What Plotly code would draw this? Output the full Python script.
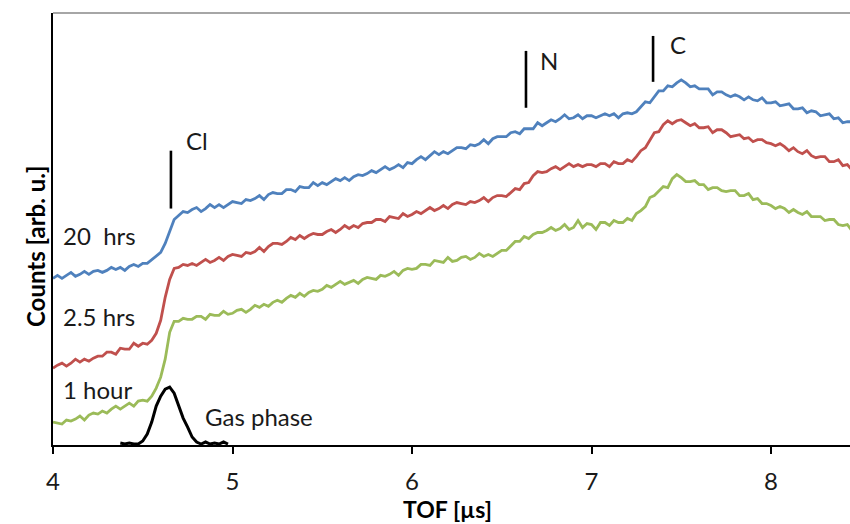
import numpy as np
import plotly.graph_objects as go

# sampling grid of the spectra (TOF, microseconds)
tof_step = 0.025
tof_start = 4.0

counts_20hrs = [
    166,169,166,169,172,168,170,173,170,173,
    174,172,174,177,175,177,174,178,180,178,
    181,181,185,188,192,201,214,225,229,233,
    232,235,237,233,236,240,237,240,237,240,
    243,242,241,245,244,246,249,245,250,252,
    251,251,255,255,253,258,257,257,262,259,
    262,260,263,266,264,267,264,268,270,269,
    271,274,272,275,278,275,277,280,277,282,
    281,285,288,285,289,293,290,293,291,294,
    297,297,296,300,299,301,305,301,306,308,
    308,308,312,313,311,316,316,316,322,319,
    322,325,323,326,330,326,327,330,326,329,
    329,327,329,331,329,331,327,331,332,331,
    333,338,343,342,348,354,354,359,358,362,
    365,362,358,359,356,356,356,350,353,353,
    350,348,350,348,345,348,345,344,347,342,
    342,343,339,340,341,336,336,337,332,334,
    333,329,330,331,326,327,322,323,323,
]
counts_2_5hrs = [
    76,79,81,78,81,85,82,85,83,86,
    88,88,92,92,90,96,95,95,101,98,
    101,100,104,111,124,147,165,176,177,180,
    179,181,179,182,185,182,184,187,184,188,
    190,189,188,192,191,193,197,193,198,201,
    201,200,203,207,205,209,206,209,211,210,
    210,213,215,212,215,219,216,219,217,221,
    222,222,225,225,223,228,227,226,231,228,
    230,233,231,234,237,234,236,239,236,240,
    242,241,240,243,242,244,247,243,247,249,
    249,248,252,256,255,261,262,269,273,272,
    273,276,278,275,278,281,278,280,278,280,
    280,278,281,281,278,283,281,281,285,283,
    288,294,297,304,312,313,320,324,321,324,
    325,322,319,321,317,317,318,312,315,315,
    312,308,309,310,306,307,303,305,305,302,
    301,299,301,298,294,297,293,291,294,289,
    287,288,288,283,283,285,279,280,275,
]
counts_1hour = [
    22,21,20,24,23,25,28,24,29,31,
    30,33,31,35,38,35,38,41,38,43,
    44,43,48,56,67,85,112,123,123,126,
    125,125,128,128,125,130,129,129,133,130,
    131,134,135,132,135,139,137,140,138,142,
    144,142,146,149,147,151,148,152,154,153,
    155,159,157,160,163,160,162,164,161,165,
    167,166,165,169,168,170,173,169,174,176,
    175,176,180,180,179,184,183,182,187,183,
    184,187,188,185,187,191,188,190,188,191,
    194,194,199,203,203,208,206,210,212,212,
    214,217,214,216,220,215,217,224,217,221,
    220,215,222,222,219,224,222,222,226,224,
    231,234,238,247,249,253,258,257,266,270,
    267,263,263,264,260,260,255,257,257,254,
    253,254,254,249,249,251,245,246,241,241,
    239,236,238,236,232,235,232,230,233,228,
    228,228,224,225,225,220,219,220,214,
]

gas_tof = [4.375,4.400,4.425,4.450,4.475,4.500,4.525,4.550,4.575,4.600,4.625,4.650,
           4.675,4.700,4.725,4.750,4.775,4.800,4.825,4.850,4.875,4.900,4.925,4.950,4.975]
gas_counts = [1,0,1,0,0,3,10,22,38,48,55,57,51,38,26,17,7,2,0,2,0,1,0,2,0]

series_names = ["20  hrs", "2.5 hrs", "1 hour"]
series_colors = ["#4F81BD", "#C0504D", "#9BBB59"]

# element markers
elem_labels = ["Cl", "N", "C"]
elem_tof = [4.657, 6.635, 7.343]
elem_lo = [236, 337, 363]
elem_hi = [294, 394, 409]

x_ticks = [4, 5, 6, 7, 8]

FONT = "Lato, 'Open Sans', sans-serif"

fig = go.Figure()
for name, ys, col in zip(series_names, [counts_20hrs, counts_2_5hrs, counts_1hour], series_colors):
    xs = tof_start + tof_step * np.arange(len(ys))
    fig.add_trace(go.Scatter(x=xs, y=ys, mode="lines", name=name,
                             line=dict(color=col, width=2.8), showlegend=False))

fig.add_trace(go.Scatter(x=gas_tof, y=gas_counts, mode="lines", name="Gas phase",
                         line=dict(color="black", width=3), showlegend=False))

for lab, ex, lo, hi in zip(elem_labels, elem_tof, elem_lo, elem_hi):
    fig.add_trace(go.Scatter(x=[ex, ex], y=[lo, hi], mode="lines",
                             line=dict(color="black", width=2.6), showlegend=False))

# text labels
labels = [
    ("20  hrs", 4.056, 209),
    ("2.5 hrs", 4.056, 128),
    ("1 hour", 4.056, 55),
    ("Gas phase", 4.847, 28),
    ("Cl", 4.741, 304),
    ("N", 6.713, 384),
    ("C", 7.437, 400),
]
for t, lx, ly in labels:
    fig.add_annotation(x=lx, y=ly, xref="x", yref="y", text=t, showarrow=False,
                       xanchor="left", yanchor="middle", xshift=-2,
                       font=dict(family=FONT, size=24, color="#1a1a1a"))

# axis titles placed at pixel-matched positions
fig.add_annotation(x=(18.5 - 53) / 797, y=(445 - 246) / 432, xref="paper", yref="paper",
                   text="<b>Counts [arb. u.]</b>", showarrow=False, textangle=-90,
                   font=dict(family=FONT, size=24, color="black"))
fig.add_annotation(x=(447 - 53) / 797, y=(445 - 509) / 432, xref="paper", yref="paper",
                   text="<b>TOF [µs]</b>", showarrow=False, yanchor="middle",
                   font=dict(family=FONT, size=23, color="black"))

fig.update_layout(
    width=850, height=524,
    margin=dict(l=53, r=0, t=13, b=79),
    plot_bgcolor="white", paper_bgcolor="white",
    xaxis=dict(range=[4, 4 + 797 / 179.5], tickvals=x_ticks, showgrid=False, zeroline=False,
               showline=True, linecolor="black", linewidth=2, ticks="outside", ticklen=7,
               tickwidth=2, tickcolor="black", ticklabelstandoff=7,
               tickfont=dict(family=FONT, size=24, color="#1a1a1a")),
    yaxis=dict(range=[-1, 432], showticklabels=False, showgrid=False, zeroline=False,
               showline=True, linecolor="black", linewidth=2, ticks=""),
    shapes=[dict(type="line", xref="paper", yref="paper", x0=0, x1=1, y0=1, y1=1,
                 line=dict(color="#888", width=1.5))],
)
fig.write_html("out.html")
